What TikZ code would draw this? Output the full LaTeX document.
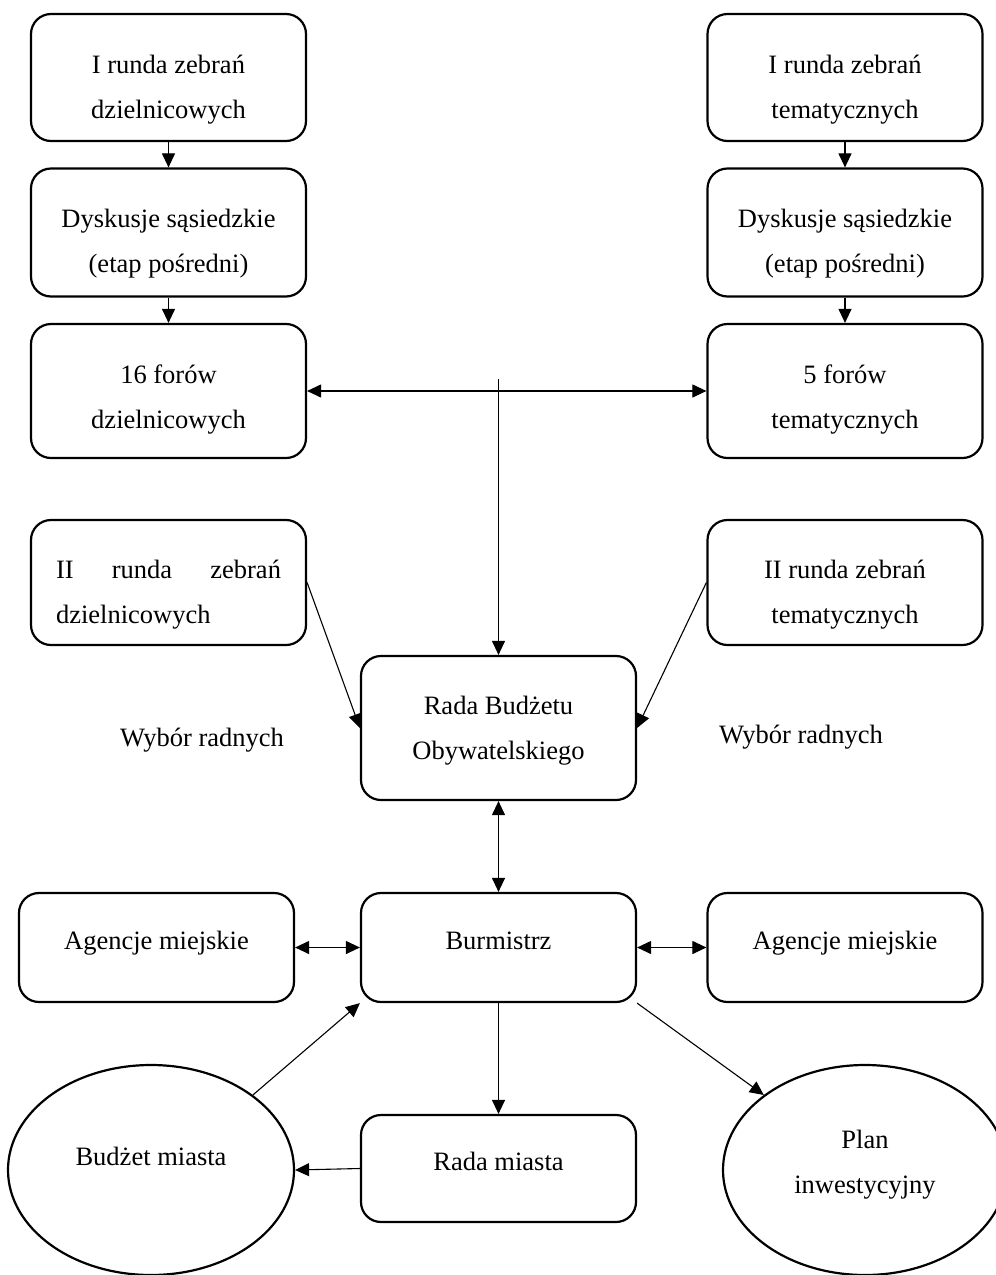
\documentclass[tikz,border=0pt]{standalone}
\usepackage{fontspec}
\setmainfont{Liberation Serif}
\usetikzlibrary{shapes.geometric,arrows.meta}
\newcommand\tx[3][c]{\raisebox{#2}[\height][\depth]{\begin{tabular}{@{}#1@{}}#3\end{tabular}}}
\begin{document}
\begin{tikzpicture}[x=1pt,y=-1pt,
  font=\fontsize{26.5}{45}\selectfont,
  box/.style={draw, line width=2.2pt, rounded corners=20pt, minimum width=275pt, minimum height=#1, inner sep=0pt, anchor=center},
  box/.default=108pt,
  oval/.style={draw, ellipse, line width=2.2pt, minimum width=#1, minimum height=210pt, inner sep=0pt},
  arr/.style={-{Triangle[length=14pt,width=13pt]}, line width=1.1pt},
  darr/.style={{Triangle[length=14pt,width=13pt]}-{Triangle[length=14pt,width=13pt]}, line width=1.1pt},
  lbl/.style={inner sep=0pt}]
\useasboundingbox (0,0) rectangle (996,1275);
\fill[white] (0,0) rectangle (996,1275);
\begin{scope}
\clip (0,0) rectangle (996,1275);
% left column
\node[box=127pt] (l1) at (168.5,77.5) {\tx{-9pt}{I runda zebrań\\dzielnicowych}};
\node[box=128pt] (l2) at (168.5,232.5) {\tx{-8.5pt}{Dyskusje sąsiedzkie\\(etap pośredni)}};
\node[box=134pt] (l3) at (168.5,391) {\tx{-6pt}{16 forów\\dzielnicowych}};
\node[box=125pt] (l4) at (168.5,582.5) {\tx[l]{-9pt}{\hbox to 225pt{II\hfill runda\hfill zebrań}\\dzielnicowych}};
% right column
\node[box=127pt] (r1) at (845,77.5) {\tx{-9pt}{I runda zebrań\\tematycznych}};
\node[box=128pt] (r2) at (845,232.5) {\tx{-8.5pt}{Dyskusje sąsiedzkie\\(etap pośredni)}};
\node[box=134pt] (r3) at (845,391) {\tx{-6pt}{5 forów\\tematycznych}};
\node[box=125pt] (r4) at (845,582.5) {\tx{-9pt}{II runda zebrań\\tematycznych}};
% centre
\node[box=144pt] (rada) at (498.5,728) {\tx{0pt}{Rada Budżetu\\Obywatelskiego}};
\node[box=109pt] (burm) at (498.5,947.5) {\tx{7pt}{Burmistrz}};
\node[box=109pt] (agl) at (156.5,947.5) {\tx{7pt}{Agencje miejskie}};
\node[box=109pt] (agr) at (845,947.5) {\tx{7pt}{Agencje miejskie}};
\node[box=107pt] (radam) at (498.5,1168.5) {\tx{7.5pt}{Rada miasta}};
\node[oval=286pt] (bud) at (151,1170) {\tx{14pt}{Budżet miasta}};
\node[oval=284pt] (plan) at (865,1170) {\tx{8pt}{Plan\\inwestycyjny}};
% labels
\node[lbl] (wl) at (202,740) {Wybór radnych};
\node[lbl] (wr) at (801,737) {Wybór radnych};
% connectors
\coordinate (top) at (498.5,379);
\draw[arr] (l1) -- (l2);
\draw[arr] (l2) -- (l3);
\draw[arr] (r1) -- (r2);
\draw[arr] (r2) -- (r3);
\draw[darr] (l3) -- (r3);
\draw[arr] (top) -- (rada);
\draw[arr] (l4.east) -- (rada.west);
\draw[arr] (r4.west) -- (rada.east);
\draw[darr] (rada) -- (burm);
\draw[darr] (agl) -- (burm);
\draw[darr] (burm) -- (agr);
\draw[arr] (bud.north east) -- (burm.south west);
\draw[arr] (burm.south east) -- (plan.north west);
\draw[arr] (burm) -- (radam);
\draw[arr] (radam.west) -- (bud.east);
\end{scope}
\end{tikzpicture}
\end{document}
